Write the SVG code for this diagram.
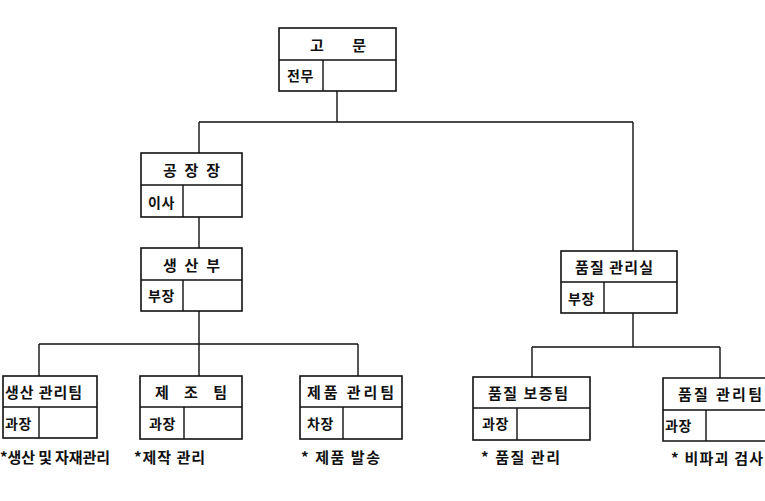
<svg xmlns="http://www.w3.org/2000/svg" width="765" height="501" viewBox="0 0 765 501">
<style>
.box{fill:none;stroke:#111;stroke-width:1.6}
.ln{fill:none;stroke:#111;stroke-width:1.4}
text{font-family:"Noto Sans CJK KR","Noto Sans",sans-serif;font-size:15px;font-weight:bold;fill:#111}
.sm{font-size:14px;letter-spacing:0.5px}
</style>
<rect width="765" height="501" fill="#fff"/>
<g id="connectors" class="ln">
<path d="M337 91V122M199 122H633M199 122V153M199 217V248M199 311V344M39 344H358M39 344V376M199 344V376M358 344V376M633 122V251M633 313V347M532 347H720M532 347V377M720 347V378"/>
</g>
<g id="n-gomun">
<rect class="box" x="279" y="28" width="117" height="63"/>
<path class="ln" d="M279 60H396M323 60V91"/>
<text x="310" y="51" textLength="56" lengthAdjust="spacing">고 문</text>
<text class="sm" x="287" y="81">전무</text>
</g>
<g id="n-factory">
<rect class="box" x="141" y="153" width="101" height="64"/>
<path class="ln" d="M141 185H242M183 185V217"/>
<text x="163" y="176" textLength="57" lengthAdjust="spacing">공 장 장</text>
<text class="sm" x="148" y="208">이사</text>
</g>
<g id="n-production">
<rect class="box" x="141" y="248" width="101" height="63"/>
<path class="ln" d="M141 280H242M183 280V311"/>
<text x="163" y="271" textLength="57" lengthAdjust="spacing">생 산 부</text>
<text class="sm" x="148" y="301">부장</text>
</g>
<g id="n-prodmgmt">
<rect class="box" x="3" y="376" width="94" height="62"/>
<path class="ln" d="M3 407H97M39 407V438"/>
<text x="5" y="398" textLength="77" lengthAdjust="spacing">생산 관리팀</text>
<text class="sm" x="5" y="429">과장</text>
<text x="0" y="463" textLength="110" lengthAdjust="spacing">*생산 및 자재관리</text>
</g>
<g id="n-manufacture">
<rect class="box" x="140" y="376" width="102" height="63"/>
<path class="ln" d="M140 407H242M184 407V439"/>
<text x="155" y="398" textLength="72" lengthAdjust="spacing">제 조 팀</text>
<text class="sm" x="149" y="429">과장</text>
<text x="134" y="463" textLength="71" lengthAdjust="spacing">*제작 관리</text>
</g>
<g id="n-productmgmt">
<rect class="box" x="300" y="376" width="102" height="63"/>
<path class="ln" d="M300 407H402M343 407V439"/>
<text x="307" y="398" textLength="87" lengthAdjust="spacing">제품 관리팀</text>
<text class="sm" x="307" y="429">차장</text>
<text x="301" y="463" textLength="79" lengthAdjust="spacing">* 제품 발송</text>
</g>
<g id="n-quality">
<rect class="box" x="561" y="251" width="116" height="62"/>
<path class="ln" d="M561 282H677M604 282V313"/>
<text x="575" y="273" textLength="78" lengthAdjust="spacing">품질 관리실</text>
<text class="sm" x="568" y="304">부장</text>
</g>
<g id="n-qassurance">
<rect class="box" x="473" y="377" width="117" height="63"/>
<path class="ln" d="M473 408H590M517 408V440"/>
<text x="488" y="399" textLength="80" lengthAdjust="spacing">품질 보증팀</text>
<text class="sm" x="482" y="429">과장</text>
<text x="481" y="463" textLength="79" lengthAdjust="spacing">* 품질 관리</text>
</g>
<g id="n-qcontrol">
<path class="box" d="M768 378H663V441H768"/>
<path class="ln" d="M663 410H768M706 410V441"/>
<text x="678" y="400" textLength="84" lengthAdjust="spacing">품질 관리팀</text>
<text class="sm" x="665" y="431">과장</text>
<text x="671" y="464" textLength="92" lengthAdjust="spacing">* 비파괴 검사</text>
</g>
</svg>
